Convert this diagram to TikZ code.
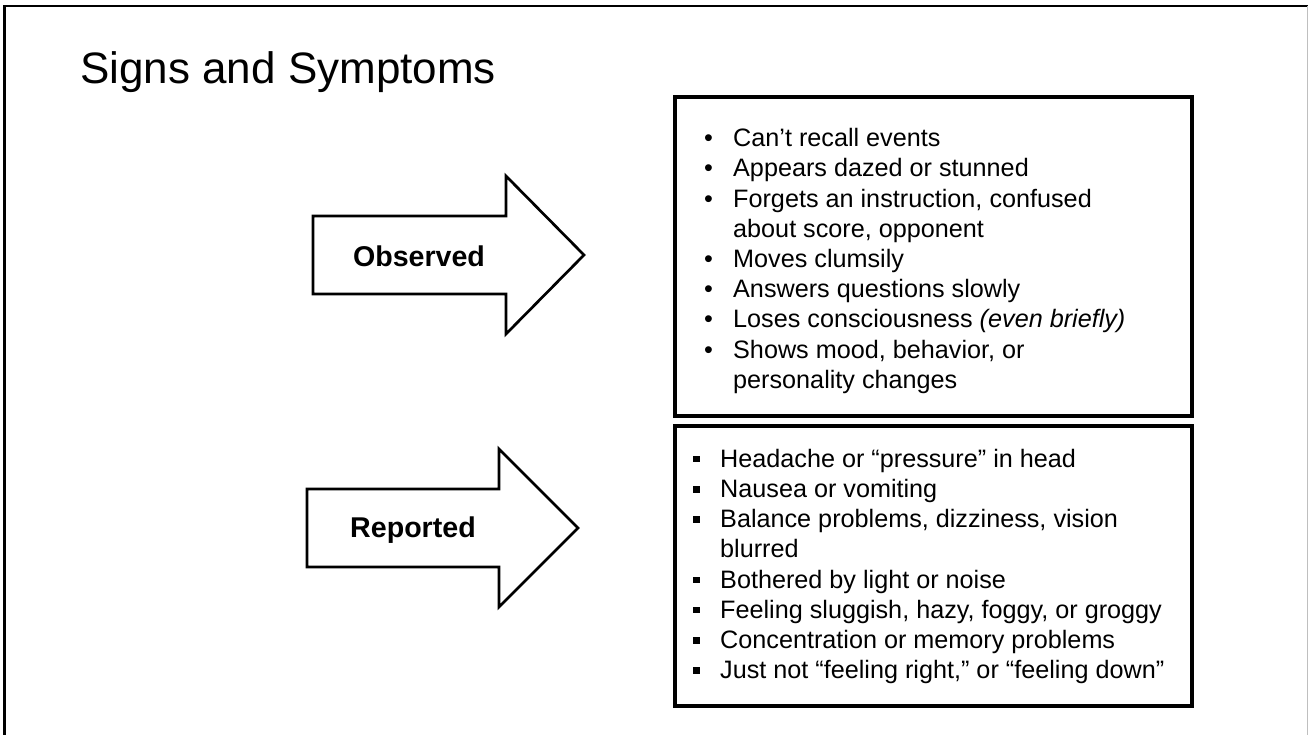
\documentclass[tikz,border=0pt]{standalone}
\usepackage{fontspec}
\setmainfont{Liberation Sans}
\tikzset{
  arrowshape/.style={draw=black, line width=2.7pt, fill=white, line join=miter},
  listbox/.style={draw=black, line width=4pt, fill=white, inner sep=0pt, anchor=north west},
  arrowlabel/.style={font=\fontsize{28.6}{34}\selectfont\bfseries, inner sep=0pt, anchor=base},
  listtext/.style={inner sep=0pt, anchor=base west, font=\fontsize{25.2}{30.2}\selectfont},
  frameline/.style={line width=2.5pt, black},
}
\newcommand{\rb}{\makebox[29pt][l]{•}}
\newcommand{\sqb}{\makebox[27pt][l]{\rule[5pt]{6.6pt}{6.6pt}}}
\begin{document}
\begin{tikzpicture}[x=1pt, y=-1pt]
\useasboundingbox (0,0) rectangle (1308,735);
% slide frame
\draw[frameline] (4.6,740) -- (4.6,6) -- (1308,6);
\draw[black!25, line width=1pt] (1307.3,6) -- (1307.3,735);
% title
\node[inner sep=0pt, anchor=base west, font=\fontsize{44}{52}\selectfont] (title) at (80,83.3) {Signs and Symptoms};
% arrows
\draw[arrowshape] (313,216) -- (506,216) -- (506,176) -- (584,255) -- (506,334) -- (506,294) -- (313,294) -- cycle;
\node[arrowlabel] (obs) at (419,266) {Observed};
\draw[arrowshape] (307,489) -- (499,489) -- (499,449) -- (578,528) -- (499,607) -- (499,567) -- (307,567) -- cycle;
\node[arrowlabel] (rep) at (413,537.6) {Reported};
% boxes
\node[listbox, minimum width=517pt, minimum height=319pt] (box1) at (673,95) {};
\node[listbox, minimum width=517pt, minimum height=280pt] (box2) at (673,424) {};
% lists
\node[listtext] (list1) at (704,146.7) {%
\begin{tabular}[t]{@{}l@{}}
\rb Can’t recall events\\
\rb Appears dazed or stunned\\
\rb Forgets an instruction, confused\\
\hspace*{29pt}about score, opponent\\
\rb Moves clumsily\\
\rb Answers questions slowly\\
\rb Loses consciousness \textit{(even briefly)}\\
\rb Shows mood, behavior, or\\
\hspace*{29pt}personality changes
\end{tabular}};
\node[listtext] (list2) at (693,467.3) {%
\begin{tabular}[t]{@{}l@{}}
\sqb Headache or “pressure” in head\\
\sqb Nausea or vomiting\\
\sqb Balance problems, dizziness, vision\\
\hspace*{27pt}blurred\\
\sqb Bothered by light or noise\\
\sqb Feeling sluggish, hazy, foggy, or groggy\\
\sqb Concentration or memory problems\\
\sqb Just not “feeling right,” or “feeling down”
\end{tabular}};
\end{tikzpicture}
\end{document}
